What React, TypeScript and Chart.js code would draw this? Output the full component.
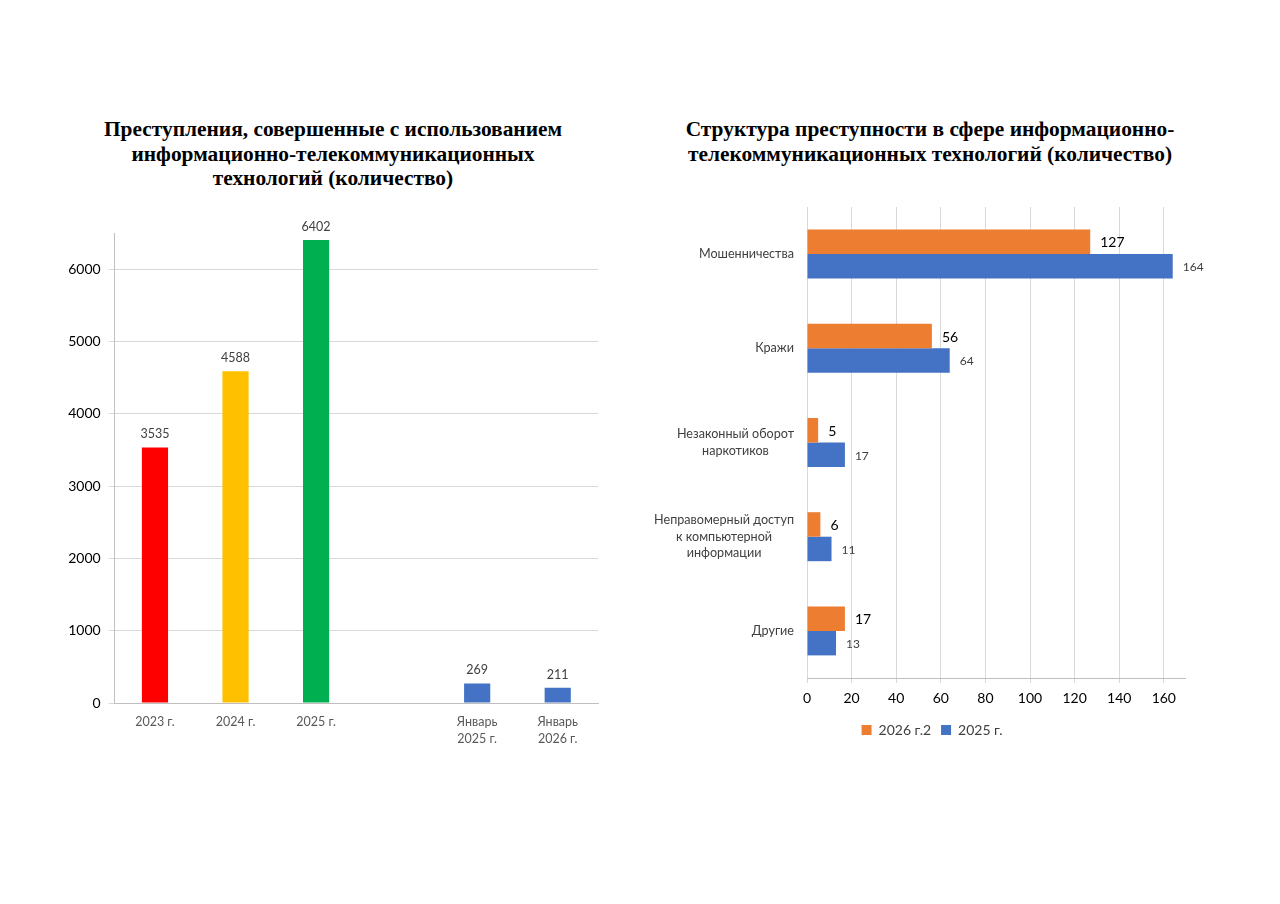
import React, { useEffect, useRef } from "react";
import { Chart, registerables } from "chart.js";
Chart.register(...registerables);

// ---------- Left chart data ----------
const leftCategories: string[][] = [["2023 г."], ["2024 г."], ["2025 г."], [""], ["Январь", "2025 г."], ["Январь", "2026 г."]];
const leftValues: (number | null)[] = [3535, 4588, 6402, null, 269, 211];
const leftColors = ["#FF0000", "#FFC000", "#00B050", "#4472C4", "#4472C4", "#4472C4"];
const leftMax = 6500;
const leftTicks = [0, 1000, 2000, 3000, 4000, 5000, 6000];

// ---------- Right chart data ----------
const rightCategories: string[][] = [
  ["Мошенничества"],
  ["Кражи"],
  ["Незаконный оборот", "наркотиков"],
  ["Неправомерный доступ", "к компьютерной", "информации"],
  ["Другие"],
];
const series2026Label = "2026 г.2";
const series2025Label = "2025 г.";
const series2026 = [127, 56, 5, 6, 17];
const series2025 = [164, 64, 17, 11, 13];
const rightMax = 169.5;
const rightTicks = [0, 20, 40, 60, 80, 100, 120, 140, 160];

const FONT = "Lato, 'Noto Sans', sans-serif";
const GRID = "#d9d9d9";
const AXIS = "#bfbfbf";

const leftLabelsPlugin = {
  id: "leftLabels",
  afterDatasetsDraw(chart: any) {
    const ctx = chart.ctx;
    ctx.save();
    ctx.font = `12.5px ${FONT}`;
    ctx.fillStyle = "#404040";
    ctx.textAlign = "center";
    ctx.textBaseline = "bottom";
    chart.data.datasets.forEach((ds: any, di: number) => {
      const meta = chart.getDatasetMeta(di);
      meta.data.forEach((el: any, i: number) => {
        const v = ds.data[i];
        if (v == null) return;
        ctx.fillText(String(v), el.x, el.y - 7);
      });
    });
    ctx.restore();
  },
};

const rightLabelsPlugin = {
  id: "rightLabels",
  afterDatasetsDraw(chart: any) {
    const ctx = chart.ctx;
    ctx.save();
    ctx.textAlign = "left";
    ctx.textBaseline = "middle";
    chart.data.datasets.forEach((ds: any, di: number) => {
      const meta = chart.getDatasetMeta(di);
      if (di === 0) {
        ctx.font = `14px ${FONT}`;
        ctx.fillStyle = "#000000";
      } else {
        ctx.font = `12px ${FONT}`;
        ctx.fillStyle = "#404040";
      }
      meta.data.forEach((el: any, i: number) => {
        const v = ds.data[i];
        if (v == null) return;
        ctx.fillText(String(v), el.x + 10, el.y + 1);
      });
    });
    // category labels: block right-aligned, lines centred within the block
    const yScale = chart.scales.y;
    const right = chart.chartArea.left - 13;
    ctx.font = `12.6px ${FONT}`;
    ctx.fillStyle = "#404040";
    ctx.textAlign = "center";
    const lh = 16.5;
    (chart.data.labels as string[][]).forEach((lines, i) => {
      const yc = yScale.getPixelForValue(i);
      let maxW = 0;
      lines.forEach((l) => (maxW = Math.max(maxW, ctx.measureText(l).width)));
      const xc = right - maxW / 2;
      const y0 = yc - ((lines.length - 1) * lh) / 2;
      lines.forEach((l, k) => ctx.fillText(l, xc, y0 + k * lh));
    });
    ctx.restore();
  },
};

function LeftChart() {
  const ref = useRef<HTMLCanvasElement>(null);
  useEffect(() => {
    const chart = new Chart(ref.current!, {
      type: "bar",
      data: {
        labels: leftCategories as any,
        datasets: [
          {
            data: leftValues as any,
            backgroundColor: leftColors,
            barPercentage: 0.65,
            categoryPercentage: 0.5,
          },
        ],
      },
      options: {
        animation: false,
        responsive: false,
        layout: { padding: { top: 18, right: 22, left: 0, bottom: 0 } },
        plugins: { legend: { display: false }, tooltip: { enabled: false } },
        scales: {
          x: {
            grid: { display: false },
            border: { display: true, color: AXIS },
            ticks: { color: "#595959", font: { family: FONT, size: 12.5, lineHeight: 1.35 }, padding: 3, maxRotation: 0 },
            afterFit: (s: any) => { s.height = 52; },
          },
          y: {
            min: 0,
            max: leftMax,
            ticks: { color: "#000000", font: { family: FONT, size: 14 }, padding: 8, callback: (v: any) => String(v) },
            grid: { color: GRID, tickLength: 6 },
            border: { display: true, color: AXIS },
            afterBuildTicks: (s: any) => { s.ticks = leftTicks.map((v) => ({ value: v })); },
            afterFit: (s: any) => { s.width = 54.7; },
          },
        },
      },
      plugins: [leftLabelsPlugin],
    });
    return () => chart.destroy();
  }, []);
  return <canvas ref={ref} width={560} height={540} style={{ position: "absolute", left: 60, top: 215 }} />;
}

function RightChart() {
  const ref = useRef<HTMLCanvasElement>(null);
  useEffect(() => {
    const chart = new Chart(ref.current!, {
      type: "bar",
      data: {
        labels: rightCategories as any,
        datasets: [
          { label: series2026Label, data: series2026, backgroundColor: "#ED7D31", barPercentage: 1, categoryPercentage: 0.52 },
          { label: series2025Label, data: series2025, backgroundColor: "#4472C4", barPercentage: 1, categoryPercentage: 0.52 },
        ],
      },
      options: {
        indexAxis: "y",
        animation: false,
        responsive: false,
        layout: { padding: { top: 12, right: 35, left: 39, bottom: 8 } },
        plugins: {
          tooltip: { enabled: false },
          legend: {
            position: "bottom",
            labels: { boxWidth: 10, boxHeight: 10, color: "#404040", font: { family: FONT, size: 14 }, padding: 10 },
          },
        },
        scales: {
          x: {
            min: 0,
            max: rightMax,
            ticks: { color: "#000000", font: { family: FONT, size: 14 }, padding: 7, callback: (v: any) => String(v) },
            grid: { color: GRID, tickLength: 5 },
            border: { display: true, color: AXIS },
            afterBuildTicks: (s: any) => { s.ticks = rightTicks.map((v) => ({ value: v })); },
            afterFit: (s: any) => { s.height = 35; },
          },
          y: {
            ticks: { display: false },
            grid: { display: false },
            border: { display: false },
            afterFit: (s: any) => { s.width = 128; },
          },
        },
      },
      plugins: [rightLabelsPlugin],
    });
    return () => chart.destroy();
  }, []);
  return <canvas ref={ref} width={580} height={560} style={{ position: "absolute", left: 640, top: 195 }} />;
}

const titleStyle: React.CSSProperties = {
  position: "absolute",
  fontFamily: "'Liberation Serif', 'Times New Roman', serif",
  fontWeight: "bold",
  fontSize: 21.4,
  lineHeight: "24.5px",
  textAlign: "center",
  color: "#000",
};

export default function App() {
  return (
    <div style={{ position: "absolute", left: 0, top: 0, width: 1280, height: 904, background: "#fff", overflow: "hidden" }}>
      <div style={{ ...titleStyle, left: 83, width: 500, top: 117 }}>
        Преступления, совершенные с использованием<br />информационно-телекоммуникационных<br />технологий (количество)
      </div>
      <div style={{ ...titleStyle, left: 630, width: 600, top: 117 }}>
        Структура преступности в сфере информационно-<br />телекоммуникационных технологий (количество)
      </div>
      <LeftChart />
      <RightChart />
    </div>
  );
}
